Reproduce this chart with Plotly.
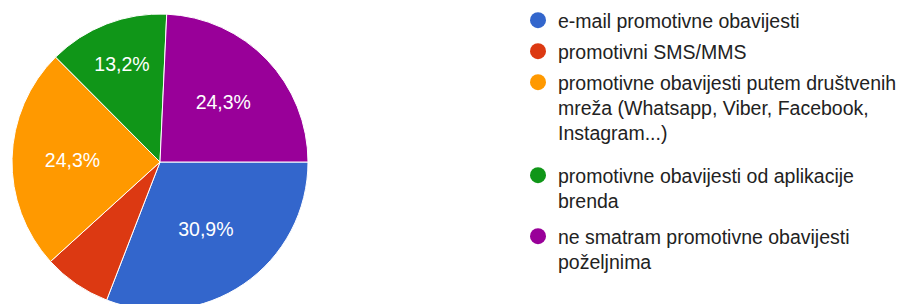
import plotly.graph_objects as go

labels = [
    "e-mail promotivne obavijesti",
    "promotivni SMS/MMS",
    "promotivne obavijesti putem društvenih<br>mreža (Whatsapp, Viber, Facebook,<br>Instagram...)",
    "promotivne obavijesti od aplikacije<br>brenda",
    "ne smatram promotivne obavijesti<br>poželjnima",
]
values = [30.9, 7.4, 24.3, 13.2, 24.3]
slice_text = ["30,9%", "", "24,3%", "13,2%", "24,3%"]
colors = ["#3366cc", "#dc3912", "#ff9900", "#109618", "#990099"]

W, H = 907, 312
FONT = "Liberation Sans, Arial, sans-serif"

# pie geometry (px)
cx, cy, r = 160, 162, 148

fig = go.Figure()
fig.add_trace(go.Pie(
    labels=labels, values=values, text=slice_text, textinfo="text",
    sort=False, direction="clockwise", rotation=90,
    marker=dict(colors=colors, line=dict(color="white", width=1)),
    textfont=dict(color="white", size=19.5, family=FONT),
    textposition="inside", insidetextorientation="horizontal",
    hoverinfo="label+percent", showlegend=False,
    domain=dict(x=[(cx - r) / W, (cx + r) / W], y=[1 - (cy + r) / H, 1 - (cy - r) / H]),
))

legend_tops = [21, 52, 83, 176, 237]
layout_legends = {}
for i, (lab, col) in enumerate(zip(labels, colors)):
    key = "legend" if i == 0 else f"legend{i+1}"
    fig.add_trace(go.Scatter(
        x=[None], y=[None], mode="markers", name=lab,
        marker=dict(color=col, size=20, symbol="circle"),
        legend=key, showlegend=True, hoverinfo="skip",
    ))
    layout_legends[key] = dict(
        x=518 / W, y=1 - (legend_tops[i] - 20) / H, xanchor="left", yanchor="top",
        font=dict(family=FONT, size=19.5, color="#222222"),
        bgcolor="rgba(0,0,0,0)", borderwidth=0, valign="top",
        itemclick=False, itemdoubleclick=False,
    )

fig.update_layout(
    width=W, height=H,
    margin=dict(l=0, r=0, t=0, b=0),
    paper_bgcolor="white", plot_bgcolor="white",
    xaxis=dict(visible=False), yaxis=dict(visible=False),
    **layout_legends,
)

fig.write_html(
    "out.html",
    config={"displayModeBar": False},
    post_script="document.body.style.margin='0';document.body.style.overflow='hidden';",
)
